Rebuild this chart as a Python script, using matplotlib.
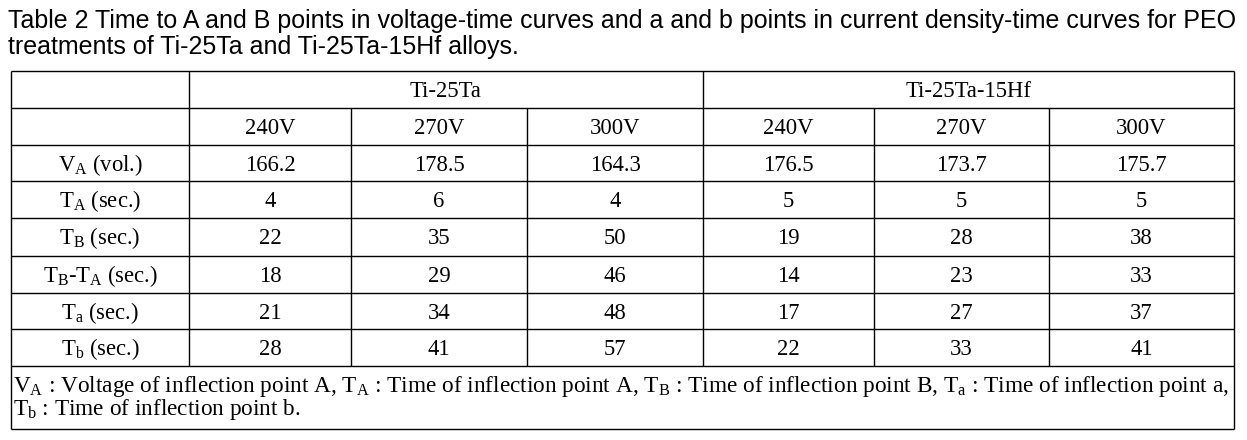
import matplotlib
matplotlib.use("Agg")
import matplotlib.pyplot as plt

plt.rcParams["mathtext.fontset"] = "custom"
plt.rcParams["mathtext.rm"] = "Liberation Serif"
plt.rcParams["mathtext.it"] = "Liberation Serif:italic"
plt.rcParams["mathtext.bf"] = "Liberation Serif:bold"

# ---------------- data ----------------
title_lines = [
    "Table 2 Time to A and B points in voltage-time curves and a and b points in current density-time curves for PEO",
    "treatments of Ti-25Ta and Ti-25Ta-15Hf alloys.",
]
alloys = ["Ti-25Ta", "Ti-25Ta-15Hf"]
voltages = ["240V", "270V", "300V"]
row_labels = [
    r"V$_\mathregular{A}$ (vol.)",
    r"T$_\mathregular{A}$ (sec.)",
    r"T$_\mathregular{B}$ (sec.)",
    r"T$_\mathregular{B}$-T$_\mathregular{A}$ (sec.)",
    r"T$_\mathregular{a}$ (sec.)",
    r"T$_\mathregular{b}$ (sec.)",
]
VA = [166.2, 178.5, 164.3, 176.5, 173.7, 175.7]
TA = [4, 6, 4, 5, 5, 5]
TB = [22, 35, 50, 19, 28, 38]
TB_TA = [18, 29, 46, 14, 23, 33]
Ta = [21, 34, 48, 17, 27, 37]
Tb = [28, 41, 57, 22, 33, 41]
footnote_lines = [
    r"V$_\mathregular{A}$ : Voltage of inflection point A, T$_\mathregular{A}$ : Time of inflection point A, "
    r"T$_\mathregular{B}$ : Time of inflection point B, T$_\mathregular{a}$ : Time of inflection point a,",
    r"T$_\mathregular{b}$ : Time of inflection point b.",
]

rows = [
    [f"{v:.1f}" for v in VA],
    [str(v) for v in TA],
    [str(v) for v in TB],
    [str(v) for v in TB_TA],
    [str(v) for v in Ta],
    [str(v) for v in Tb],
]

# ---------------- layout (pixel coordinates) ----------------
W, H = 1247, 440
fig = plt.figure(figsize=(W / 100, H / 100), dpi=100)
ax = fig.add_axes([0, 0, 1, 1])
ax.set_xlim(0, W)
ax.set_ylim(H, 0)
ax.axis("off")

xcols = [11, 189, 351, 527, 703, 874, 1049, 1234]
yrows = [71, 108, 145, 181, 218, 256, 293, 329, 366]
y_bottom = 429
lw = 1.0
serif = "Liberation Serif"
fs = 16.3

# horizontal lines
ax.hlines(yrows, xcols[0], xcols[-1], color="black", lw=lw)
ax.hlines(y_bottom, xcols[0], xcols[-1], color="black", lw=lw)
# vertical lines
ax.vlines([xcols[0], xcols[-1]], yrows[0], y_bottom, color="black", lw=lw)
ax.vlines([xcols[1], xcols[4]], yrows[0], yrows[-1], color="black", lw=lw)
ax.vlines([xcols[2], xcols[3], xcols[5], xcols[6]], yrows[1], yrows[-1], color="black", lw=lw)

def cx(i):
    return (xcols[i] + xcols[i + 1]) / 2

base_off = 26
# alloy header
ax.text((xcols[1] + xcols[4]) / 2, yrows[0] + base_off, alloys[0], ha="center", va="baseline",
        family=serif, fontsize=fs)
ax.text((xcols[4] + xcols[7]) / 2, yrows[0] + base_off, alloys[1], ha="center", va="baseline",
        family=serif, fontsize=fs)
# voltage header
for g in range(2):
    for k, v in enumerate(voltages):
        ax.text(cx(1 + 3 * g + k), yrows[1] + base_off, v, ha="center", va="baseline",
                family=serif, fontsize=fs)
# body
for r, (lab, vals) in enumerate(zip(row_labels, rows)):
    yb = yrows[2 + r] + base_off
    ax.text(cx(0), yb, lab, ha="center", va="baseline", family=serif, fontsize=fs)
    for c, v in enumerate(vals):
        ax.text(cx(1 + c), yb, v, ha="center", va="baseline", family=serif, fontsize=fs)

# title
t1 = ax.text(8, 28, title_lines[0], ha="left", va="baseline", family="Liberation Sans", fontsize=15.5)
t2 = ax.text(8, 54, title_lines[1], ha="left", va="baseline", family="Liberation Sans", fontsize=15.5)
# footnote
f1 = ax.text(13, 392, footnote_lines[0], ha="left", va="baseline", family=serif, fontsize=14)
f2 = ax.text(13, 415, footnote_lines[1], ha="left", va="baseline", family=serif, fontsize=14)

# fit widths
fig.canvas.draw()
r = fig.canvas.get_renderer()
w = t1.get_window_extent(r).width
s = t1.get_fontsize() * 1226 / w
t1.set_fontsize(s); t2.set_fontsize(s)
w = f1.get_window_extent(r).width
s = f1.get_fontsize() * 1219 / w
f1.set_fontsize(s); f2.set_fontsize(s)

fig.savefig("out.png", dpi=100, facecolor="white")
